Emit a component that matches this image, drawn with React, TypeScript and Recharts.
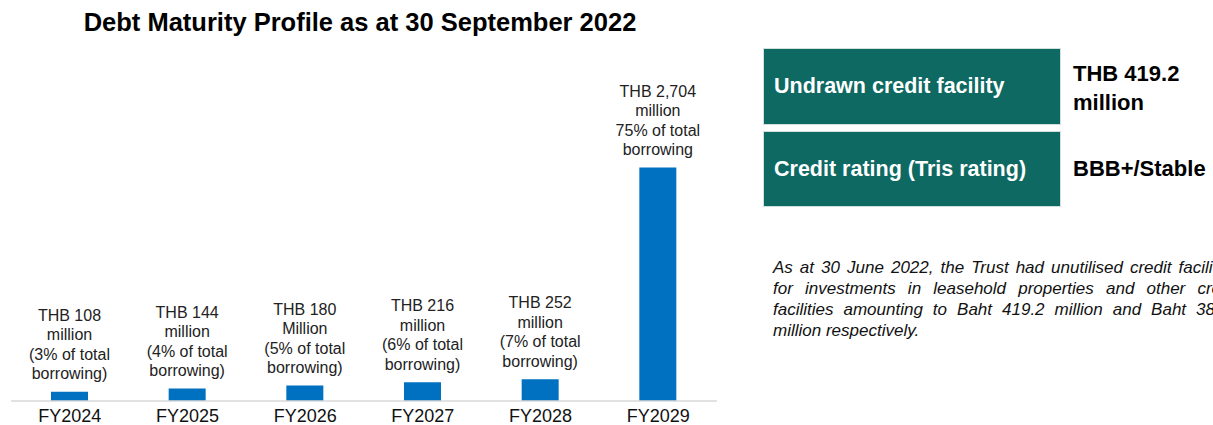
import React from 'react';
import { BarChart, Bar, XAxis, YAxis, LabelList } from 'recharts';

const years = ['FY2024', 'FY2025', 'FY2026', 'FY2027', 'FY2028', 'FY2029'];
const maturities = [108, 144, 180, 216, 252, 2704];
const amountLabels = ['THB 108', 'THB 144', 'THB 180', 'THB 216', 'THB 252', 'THB 2,704'];
const unitLabels = ['million', 'million', 'Million', 'million', 'million', 'million'];
const shareLabels = ['(3% of total', '(4% of total', '(5% of total', '(6% of total', '(7% of total', '75% of total'];
const tailLabels = ['borrowing)', 'borrowing)', 'borrowing)', 'borrowing)', 'borrowing)', 'borrowing'];

const title = 'Debt Maturity Profile as at 30 September 2022';
const tableRows = ['Undrawn credit facility', 'Credit rating (Tris rating)'];
const tableValues = [['THB 419.2', 'million'], ['BBB+/Stable']];
const noteLines = [
  'As at 30 June 2022, the Trust had unutilised credit facilities',
  'for investments in leasehold properties and other credit',
  'facilities amounting to Baht 419.2 million and Baht 38',
  'million respectively.',
];

const data = years.map((y, i) => ({ year: y, value: maturities[i] }));

const FONT = '"Liberation Sans", Arial, Helvetica, sans-serif';
const BLUE = '#0070c0';
const TEAL = '#0d6962';

const BarLabel = (props: any) => {
  const { x, y, width, index } = props;
  const cx = Number(x) + Number(width) / 2;
  const top = Number(y);
  const lines = [amountLabels[index], unitLabels[index], shareLabels[index], tailLabels[index]];
  const step = 19.5;
  const lastCenter = top - 18;
  return (
    <text textAnchor="middle" fontFamily={FONT} fontSize={16} fill="#222">
      {lines.map((l, i) => (
        <tspan key={i} x={cx} y={lastCenter - (lines.length - 1 - i) * step + 5.6}>
          {l}
        </tspan>
      ))}
    </text>
  );
};

export default function App() {
  return (
    <div style={{ position: 'absolute', left: 0, top: 0, width: 1213, height: 425, background: '#fff', overflow: 'hidden', fontFamily: FONT }}>
      <div style={{ position: 'absolute', left: 0, width: 720, top: 8, textAlign: 'center', fontSize: 25.5, fontWeight: 'bold', lineHeight: '28px', color: '#000' }}>
        {title}
      </div>
      <div style={{ position: 'absolute', left: 0, top: 0 }}>
        <BarChart width={730} height={425} data={data} margin={{ top: 142, right: 13, bottom: 0, left: 11 }}>
          <XAxis
            dataKey="year"
            height={24}
            tickLine={false}
            axisLine={{ stroke: '#d9d9d9', strokeWidth: 1.5 }}
            tickMargin={2}
            tick={{ fill: '#111', fontSize: 18, fontFamily: FONT }}
            interval={0}
          />
          <YAxis hide domain={[0, 3000]} />
          <Bar dataKey="value" fill={BLUE} barSize={37} isAnimationActive={false}>
            <LabelList dataKey="value" content={<BarLabel />} />
          </Bar>
        </BarChart>
      </div>
      {tableRows.map((r, i) => (
        <div
          key={r}
          style={{
            position: 'absolute', left: 763, top: i === 0 ? 48 : 131, width: 298, height: i === 0 ? 77 : 76,
            background: TEAL, color: '#fff', fontWeight: 'bold', fontSize: 21.5, display: 'flex', alignItems: 'center',
            paddingLeft: 10, boxSizing: 'border-box', border: '1px solid #cfe0dd',
          }}
        >
          {r}
        </div>
      ))}
      <div style={{ position: 'absolute', left: 1073, top: 58.5, fontWeight: 'bold', fontSize: 22, lineHeight: '29px', color: '#000' }}>
        {tableValues[0].map((l) => (<div key={l}>{l}</div>))}
      </div>
      <div style={{ position: 'absolute', left: 1073, top: 153.5, fontWeight: 'bold', fontSize: 22, lineHeight: '29px', color: '#000' }}>
        {tableValues[1].map((l) => (<div key={l}>{l}</div>))}
      </div>
      <div style={{ position: 'absolute', left: 773, top: 256.5, fontStyle: 'italic', fontSize: 17, lineHeight: '21px', color: '#111' }}>
        {noteLines.map((l, i) => (
          <div
            key={i}
            style={{
              width: i === 2 ? 442 : 466,
              whiteSpace: 'nowrap',
              textAlign: i === 3 ? 'left' : 'justify',
              textAlignLast: i === 3 ? 'left' : 'justify',
            }}
          >
            {l}
          </div>
        ))}
      </div>
    </div>
  );
}
